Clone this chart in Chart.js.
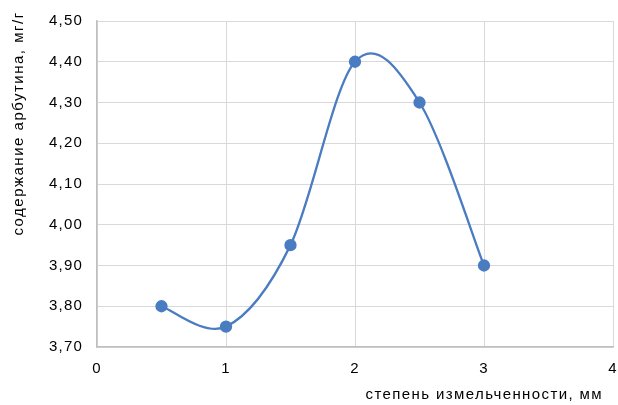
<!DOCTYPE html>
<html><head><meta charset="utf-8">
<script src="https://cdn.jsdelivr.net/npm/chart.js@4"></script>
<style>html,body{margin:0;padding:0;background:#fff}canvas{display:block}</style>
</head><body>
<canvas id="c" width="618" height="405"></canvas>
<script>
const xValues = [0.5, 1, 1.5, 2, 2.5, 3];
const yValues = [3.80, 3.75, 3.95, 4.40, 4.30, 3.90];
const xTitle = 'степень измельченности, мм';
const yTitle = 'содержание арбутина, мг/г';
const FONT = '"Liberation Sans", Arial, sans-serif';

// Excel-style (uniform Catmull-Rom) smoothing of the line through the points
const excelSmooth = {
  id: 'excelSmooth',
  beforeDatasetsDraw(chart) {
    chart.getSortedVisibleDatasetMetas().forEach(meta => {
      const line = meta.dataset;
      if (!line) return;
      line.updateControlPoints(chart.chartArea, 'x');
      const pts = meta.data;
      const n = pts.length;
      for (let i = 0; i < n; i++) {
        const p = pts[i];
        const prev = pts[Math.max(0, i - 1)];
        const next = pts[Math.min(n - 1, i + 1)];
        const dx = (next.x - prev.x) / 6, dy = (next.y - prev.y) / 6;
        p.cp1x = p.x - dx; p.cp1y = p.y - dy;
        p.cp2x = p.x + dx; p.cp2y = p.y + dy;
      }
      line._path = undefined;
    });
  }
};

const titles = {
  id: 'titles',
  beforeDraw(chart) { chart.ctx.letterSpacing = '1.2px'; },
  afterDraw(chart) {
    const ctx = chart.ctx;
    ctx.save();
    ctx.fillStyle = '#000';
    ctx.font = '15px ' + FONT;
    ctx.letterSpacing = '1.4px';
    ctx.textBaseline = 'middle';
    ctx.textAlign = 'right';
    ctx.fillText(xTitle, 603, 395);
    ctx.letterSpacing = '1.5px';
    ctx.translate(18.5, 123.5);
    ctx.rotate(-Math.PI / 2);
    ctx.textAlign = 'center';
    ctx.fillText(yTitle, 0, 0);
    ctx.restore();
    ctx.letterSpacing = '0px';
  }
};

new Chart(document.getElementById('c'), {
  type: 'scatter',
  data: {
    datasets: [{
      data: xValues.map((x, i) => ({ x: x, y: yValues[i] })),
      showLine: true,
      borderColor: '#4a7cc1',
      backgroundColor: '#4a7cc1',
      borderWidth: 2.3,
      pointRadius: 5,
      pointHoverRadius: 5,
      tension: 0.4
    }]
  },
  options: {
    responsive: false,
    animation: false,
    devicePixelRatio: 1,
    layout: { autoPadding: false, padding: { left: 0, top: 21, right: 0, bottom: 0 } },
    plugins: { legend: { display: false }, tooltip: { enabled: false } },
    scales: {
      x: {
        type: 'linear', min: 0, max: 4,
        afterFit(s) { s.height = 58; s.paddingRight = 5; s.paddingLeft = 0; },
        ticks: { stepSize: 1, color: '#000', font: { family: FONT, size: 15 }, padding: 13 },
        grid: { color: '#d9d9d9', lineWidth: 1, drawTicks: false },
        border: { color: '#bfbfbf', width: 1.5 }
      },
      y: {
        min: 3.7, max: 4.5,
        afterFit(s) { s.width = 97; s.paddingTop = 0; s.paddingBottom = 0; },
        ticks: {
          stepSize: 0.1, color: '#000', font: { family: FONT, size: 15 }, padding: 14,
          callback: v => v.toFixed(2).replace('.', ',')
        },
        grid: { color: '#d9d9d9', lineWidth: 1, drawTicks: false },
        border: { color: '#bfbfbf', width: 1.5 }
      }
    }
  },
  plugins: [excelSmooth, titles]
});
</script>
</body></html>
